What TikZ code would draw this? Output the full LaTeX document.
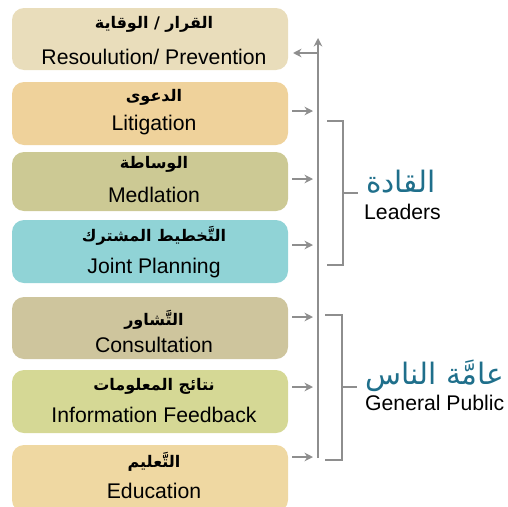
\documentclass[tikz,border=0pt]{standalone}
\usepackage{fontspec}
\setmainfont{Liberation Sans}
\newfontfamily\arabicfont[Script=Arabic]{DejaVu Sans}
\TeXXeTstate=1
\usetikzlibrary{arrows.meta}

\definecolor{boxA}{HTML}{E9DDBB}
\definecolor{boxB}{HTML}{EFD29B}
\definecolor{boxC}{HTML}{CCC994}
\definecolor{boxD}{HTML}{90D3D6}
\definecolor{boxE}{HTML}{CEC59D}
\definecolor{boxF}{HTML}{D5D895}
\definecolor{boxG}{HTML}{EFD8A2}
\definecolor{tealtxt}{HTML}{1F6F8B}
\definecolor{linegray}{HTML}{8E8E8E}

\newcommand{\ar}[1]{{\arabicfont\bfseries\fontsize{16}{18}\selectfont\beginR #1\endR}}
\newcommand{\en}[1]{{\fontsize{21.2}{24}\selectfont #1}}

\tikzset{
  arabiclbl/.style={inner sep=0pt, anchor=center},
  englbl/.style={inner sep=0pt, anchor=center},
  conn/.style={draw=linegray, line width=1.8pt, -{Stealth[length=8.5pt,width=8.5pt]}},
  bracketline/.style={draw=linegray, line width=1.8pt},
}

\begin{document}
\begin{tikzpicture}[x=1pt, y=-1pt]
\useasboundingbox (0,0) rectangle (508,506);

% stage boxes: (top, bottom, colour)
\foreach \nm/\top/\bot/\col in {b1/8/70/boxA, b2/82/145/boxB, b3/152/211/boxC, b4/220/283/boxD,
                                b5/297/359/boxE, b6/370/433/boxF, b7/445/512/boxG}{
  \fill[\col, rounded corners=12pt] (12,\top) rectangle (288,\bot);
  \coordinate (\nm) at (288,{(\top+\bot)/2});
}

% labels inside the boxes
\node[arabiclbl] (a1) at (154,24)  {\ar{القرار / الوقاية}};
\node[englbl]    (e1) at (154,57)  {\en{Resoulution/ Prevention}};
\node[arabiclbl] (a2) at (154,97)  {\ar{الدعوى}};
\node[englbl]    (e2) at (154,125) {\en{Litigation}};
\node[arabiclbl] (a3) at (154,164) {\ar{الوساطة}};
\node[englbl]    (e3) at (154,195) {\en{Medlation}};
\node[arabiclbl] (a4) at (154,236) {\ar{التَّخطيط المشترك}};
\node[englbl]    (e4) at (154,268) {\en{Joint Planning}};
\node[arabiclbl] (a5) at (154,320) {\ar{التَّشاور}};
\node[englbl]    (e5) at (154,345) {\en{Consultation}};
\node[arabiclbl] (a6) at (154,386) {\ar{نتائج المعلومات}};
\node[englbl]    (e6) at (154,415) {\en{Information Feedback}};
\node[arabiclbl] (a7) at (154,462) {\ar{التَّعليم}};
\node[englbl]    (e7) at (154,491) {\en{Education}};

% spine
\coordinate (spineTop) at (318,38);
\coordinate (spineBot) at (318,458);
\draw[conn] (spineBot) -- (spineTop);

% arrow back to the first box
\coordinate (r1) at (318,53);
\coordinate (l1) at (293,53);
\draw[conn] (r1) -- (l1);

% arrows from the boxes into the spine
\foreach \y in {111,179,245,317,387,457}{
  \coordinate (from) at (292,\y);
  \coordinate (to) at (313,\y);
  \draw[conn] (from) -- (to);
}

% brackets
\coordinate (lt) at (327,121); \coordinate (lb) at (327,265);
\draw[bracketline] (lt) -- (343,121) -- (343,265) -- (lb);
\coordinate (lm) at (343,193); \coordinate (lmt) at (358,193);
\draw[bracketline] (lm) -- (lmt);

\coordinate (gt) at (325,315); \coordinate (gb) at (325,460);
\draw[bracketline] (gt) -- (342,315) -- (342,460) -- (gb);
\coordinate (gm) at (342,387); \coordinate (gmt) at (357,387);
\draw[bracketline] (gm) -- (gmt);

% group labels
\node[inner sep=0pt, text=tealtxt] (leadAr) at (401,182)
  {\arabicfont\fontsize{29.5}{33}\selectfont\beginR القادة\endR};
\node[inner sep=0pt, anchor=west] (leadEn) at (364,212) {\en{Leaders}};
\node[inner sep=0pt, text=tealtxt] (pubAr) at (435,376)
  {\arabicfont\fontsize{29.5}{33}\selectfont\beginR عامَّة الناس\endR};
\node[inner sep=0pt, anchor=west] (pubEn) at (365,403) {\en{General Public}};
\end{tikzpicture}
\end{document}
